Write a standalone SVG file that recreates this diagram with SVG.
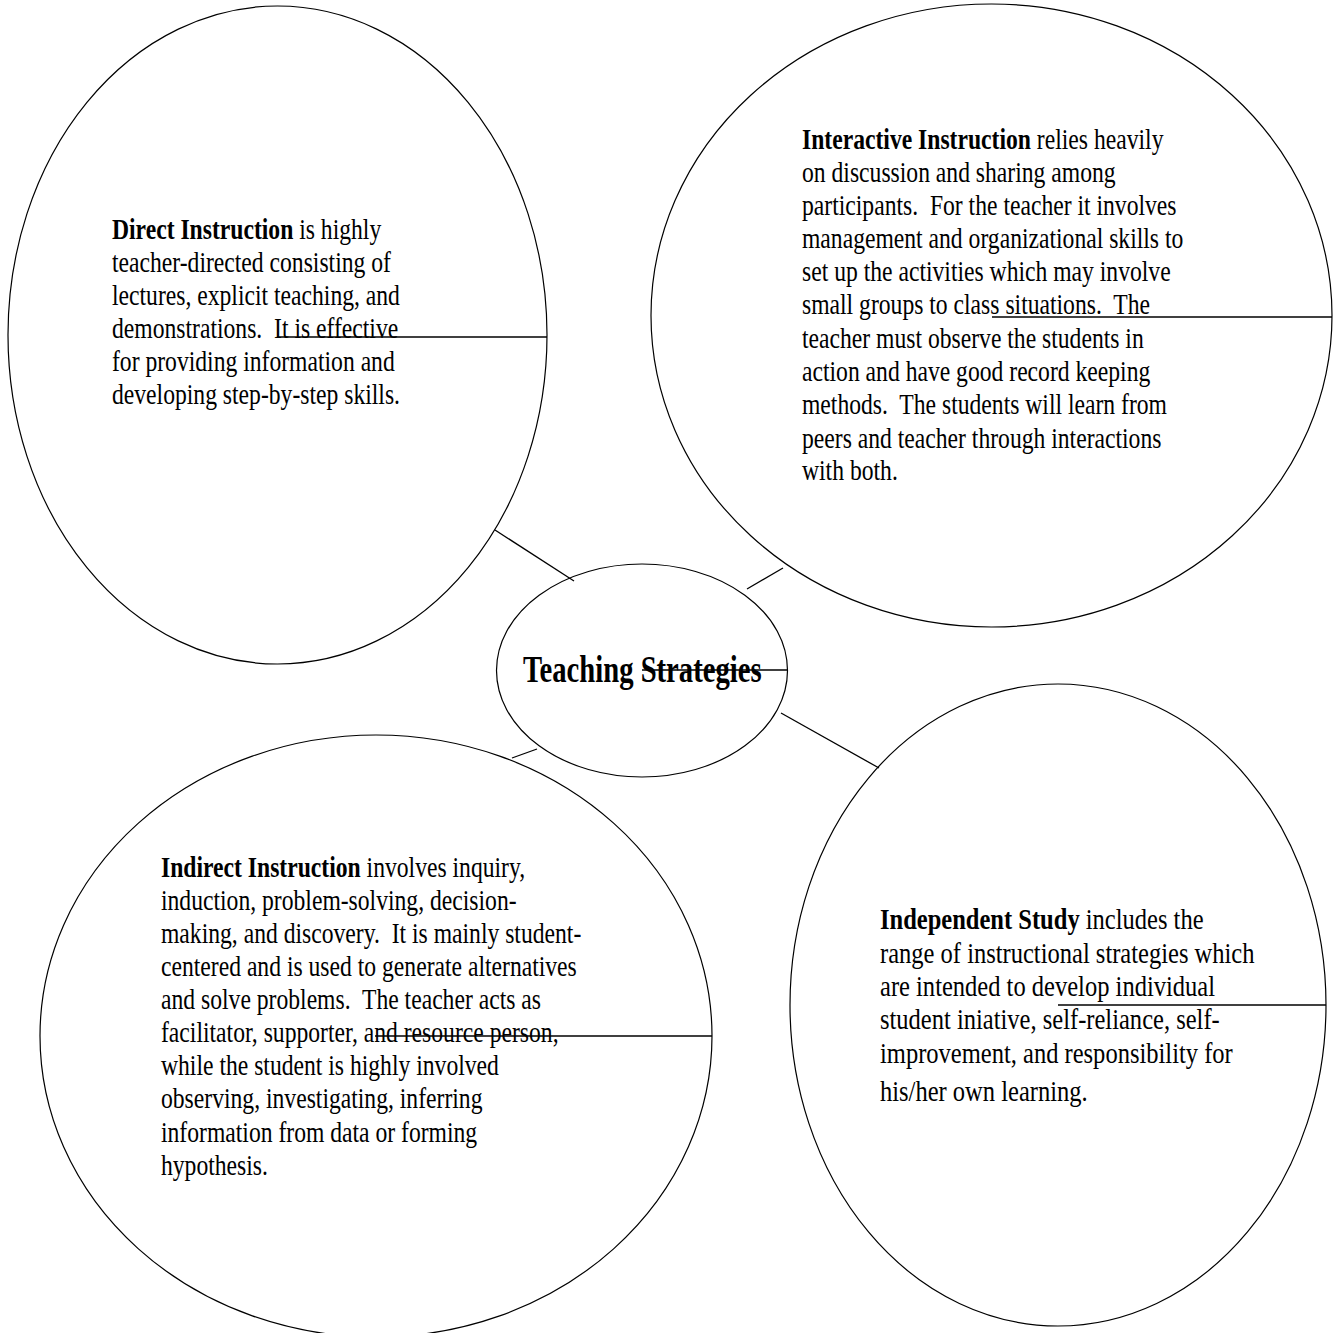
<svg xmlns="http://www.w3.org/2000/svg" width="1333" height="1333" viewBox="0 0 1333 1333">
<style>
.shape{fill:none;stroke:#000;stroke-width:1.2}
.ln{stroke:#000;stroke-width:1.3}
text{font-family:"Liberation Serif","Times New Roman",serif;font-size:29px;fill:#000;white-space:pre}
.b{font-weight:bold}
.title{font-size:37px;font-weight:bold}
</style>
<rect width="1333" height="1333" fill="#fff"/>
<g id="connectors">
<line class="ln" x1="495" y1="530" x2="574" y2="581"/>
<line class="ln" x1="747" y1="589" x2="783" y2="568"/>
<line class="ln" x1="781" y1="713" x2="879" y2="768"/>
<line class="ln" x1="512" y1="758" x2="537" y2="749"/>
</g>
<g id="direct">
<ellipse class="shape" cx="277.5" cy="335" rx="269.5" ry="329"/>
<line class="ln" x1="277" y1="337" x2="547" y2="337"/>
<g transform="translate(112 0) scale(0.815 1)">
<text x="0" y="239"><tspan class="b">Direct Instruction</tspan> is highly</text>
<text x="0" y="272">teacher-directed consisting of</text>
<text x="0" y="305">lectures, explicit teaching, and</text>
<text x="0" y="338">demonstrations.  It is effective</text>
<text x="0" y="371">for providing information and</text>
<text x="0" y="404">developing step-by-step skills.</text>
</g>
</g>
<g id="interactive">
<ellipse class="shape" cx="991.5" cy="315.5" rx="340.5" ry="311.5"/>
<line class="ln" x1="992" y1="317" x2="1332" y2="317"/>
<g transform="translate(802 0) scale(0.815 1)">
<text x="0" y="149"><tspan class="b">Interactive Instruction</tspan> relies heavily</text>
<text x="0" y="182">on discussion and sharing among</text>
<text x="0" y="215">participants.  For the teacher it involves</text>
<text x="0" y="248">management and organizational skills to</text>
<text x="0" y="281">set up the activities which may involve</text>
<text x="0" y="314">small groups to class situations.  The</text>
<text x="0" y="348">teacher must observe the students in</text>
<text x="0" y="381">action and have good record keeping</text>
<text x="0" y="414">methods.  The students will learn from</text>
<text x="0" y="448">peers and teacher through interactions</text>
<text x="0" y="480">with both.</text>
</g>
</g>
<g id="center">
<ellipse class="shape" cx="642" cy="670.5" rx="145.5" ry="106.5"/>
<line class="ln" x1="642" y1="670" x2="787.5" y2="670"/>
<g transform="translate(523 0) scale(0.775 1)">
<text class="title" x="0" y="682">Teaching Strategies</text>
</g>
</g>
<g id="indirect">
<ellipse class="shape" cx="376" cy="1036" rx="336" ry="301"/>
<line class="ln" x1="375" y1="1036" x2="712" y2="1036"/>
<g transform="translate(161 0) scale(0.815 1)">
<text x="0" y="877"><tspan class="b">Indirect Instruction</tspan> involves inquiry,</text>
<text x="0" y="910">induction, problem-solving, decision-</text>
<text x="0" y="943">making, and discovery.  It is mainly student-</text>
<text x="0" y="976">centered and is used to generate alternatives</text>
<text x="0" y="1009">and solve problems.  The teacher acts as</text>
<text x="0" y="1042">facilitator, supporter, and resource person,</text>
<text x="0" y="1075">while the student is highly involved</text>
<text x="0" y="1108">observing, investigating, inferring</text>
<text x="0" y="1142">information from data or forming</text>
<text x="0" y="1175">hypothesis.</text>
</g>
</g>
<g id="independent">
<ellipse class="shape" cx="1058" cy="1005" rx="268" ry="321"/>
<line class="ln" x1="1058" y1="1005" x2="1326" y2="1005"/>
<g transform="translate(880 0) scale(0.846 1)">
<text x="0" y="929"><tspan class="b">Independent Study</tspan> includes the</text>
<text x="0" y="963">range of instructional strategies which</text>
<text x="0" y="996">are intended to develop individual</text>
<text x="0" y="1029">student iniative, self-reliance, self-</text>
<text x="0" y="1063">improvement, and responsibility for</text>
<text x="0" y="1101">his/her own learning.</text>
</g>
</g>
</svg>
